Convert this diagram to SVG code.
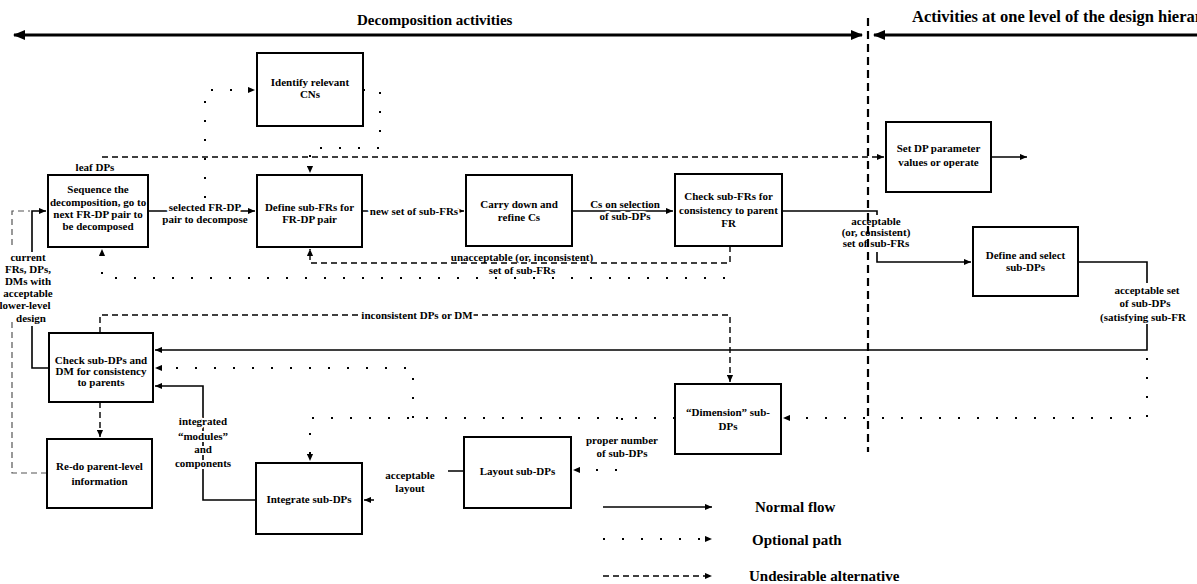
<svg xmlns="http://www.w3.org/2000/svg" width="1197" height="584" viewBox="0 0 1197 584">
<defs>
  <marker id="arrow" viewBox="0 0 8 8" refX="8" refY="4" markerWidth="7" markerHeight="7" markerUnits="userSpaceOnUse" orient="auto">
    <path d="M0,0.5 L8,4 L0,7.5 z" fill="#000"/>
  </marker>
  <marker id="bigArrow" viewBox="0 0 12 10" refX="11" refY="5" markerWidth="12" markerHeight="10" markerUnits="userSpaceOnUse" orient="auto-start-reverse">
    <path d="M0,0 L12,5 L0,10 z" fill="#000"/>
  </marker>
  <style>
    .box{fill:#fff;stroke:#000;stroke-width:2}
    .nt{font-family:"Liberation Serif","Times New Roman",serif;font-weight:bold;font-size:11px;text-anchor:middle;fill:#000}
    .lb{font-family:"Liberation Serif","Times New Roman",serif;font-weight:bold;font-size:11px;text-anchor:middle;fill:#000;stroke:#fff;stroke-width:4;stroke-linejoin:round;paint-order:stroke}
    .hd{font-family:"Liberation Serif","Times New Roman",serif;font-weight:bold;font-size:15px;fill:#000}
    .solid{fill:none;stroke:#000;stroke-width:1.6}
    .dash{fill:none;stroke:#000;stroke-width:1.4;stroke-dasharray:6 4}
    .faint{fill:none;stroke:#555;stroke-width:1.2;stroke-dasharray:6 4}
    .dot{fill:none;stroke:#000;stroke-width:2;stroke-dasharray:2 17}
    .arr{marker-end:url(#arrow)}
  </style>
</defs>
<rect width="1197" height="584" fill="#fff"/>

<!-- headers and the scope arrows -->
<g id="headers">
  <text class="hd" x="357" y="25">Decomposition activities</text>
  <text class="hd" x="912" y="22" style="font-size:16.5px">Activities at one level of the design hierarchy</text>
  <path d="M862,35 H14" fill="none" stroke="#000" stroke-width="3" marker-start="url(#bigArrow)" marker-end="url(#bigArrow)"/>
  <path d="M1197,35 H874" fill="none" stroke="#000" stroke-width="3" marker-end="url(#bigArrow)"/>
</g>

<!-- connectors -->
<g id="connectors">
  <!-- optional: fetch relevant CNs -->
  <path class="dot arr" d="M205,198 V90 H255"/>
  <path class="dot arr" d="M363,90 H380 V148 H310 V173"/>
  <!-- leaf DPs -->
  <path class="dash arr" d="M102,157 H884"/>
  <text class="nt" x="95" y="171">leaf DPs</text>
  <!-- main decomposition chain -->
  <path class="solid arr" d="M148,211 H255"/>
  <text class="lb" x="205" y="211">selected FR-DP</text>
  <text class="lb" x="205" y="223">pair to decompose</text>
  <path class="solid arr" d="M362,211 H464"/>
  <text class="lb" x="414" y="215">new set of sub-FRs</text>
  <path class="solid arr" d="M572,211 H673"/>
  <text class="lb" x="625" y="208">Cs on selection</text>
  <text class="lb" x="625" y="220">of sub-DPs</text>
  <path class="solid arr" d="M782,211 H877 V215 M877,252 V262 H971"/>
  <text class="nt" x="876" y="225">acceptable</text>
  <text class="nt" x="876" y="236">(or, consistent)</text>
  <text class="nt" x="876" y="247">set of sub-FRs</text>
  <!-- unacceptable set of sub-FRs -->
  <path class="dash arr" d="M730,246 V263 H310 V249"/>
  <text class="nt" x="522" y="261">unacceptable (or, inconsistent)</text>
  <text class="nt" x="522" y="274">set of sub-FRs</text>
  <path class="dot arr" d="M725,278 H102 V249"/>
  <!-- set DP parameter values -->
  <path class="solid arr" d="M991,157 H1027"/>
  <!-- acceptable set of sub-DPs back to checking -->
  <path class="solid arr" d="M1078,262 H1147 V283 M1147,324 V350 H155"/>
  <text class="nt" x="1147" y="294">acceptable set</text>
  <text class="nt" x="1145" y="307">of sub-DPs</text>
  <text class="nt" x="1143" y="321">(satisfying sub-FR</text>
  <path class="dot arr" d="M1147,358 V418 H783"/>
  <!-- inconsistent DPs or DM -->
  <path class="dash arr" d="M100,333 V315 H730 V382"/>
  <text class="lb" x="417" y="319">inconsistent DPs or DM</text>
  <!-- dimension / layout / integrate -->
  <path class="dot arr" d="M675,418 H310 V461"/>
  <path class="dot arr" d="M413,418 V368 H155"/>
  <path class="dot arr" d="M622,418 V470 H573"/>
  <text class="lb" x="622" y="444">proper number</text>
  <text class="lb" x="622" y="457">of sub-DPs</text>
  <path class="solid arr" d="M464,471 H448 M374,500 H364"/>
  <text class="nt" x="410" y="479">acceptable</text>
  <text class="nt" x="410" y="492">layout</text>
  <path class="solid arr" d="M256,500 H203 V386 H155"/>
  <text class="lb" x="203" y="425">integrated</text>
  <text class="lb" x="203" y="440">“modules”</text>
  <text class="lb" x="203" y="453">and</text>
  <text class="lb" x="203" y="467">components</text>
  <!-- back to parent level -->
  <path class="dash arr" d="M100,402 V437"/>
  <path class="solid arr" d="M49,368 H32 V326 M32,252 V211 H46"/>
  <path class="faint" d="M47,473 H12 V318 M12,245 V211 H30"/>
  <text class="nt" x="28" y="261">current</text>
  <text class="nt" x="28" y="273">FRs, DPs,</text>
  <text class="nt" x="28" y="285">DMs with</text>
  <text class="nt" x="28" y="297">acceptable</text>
  <text class="nt" x="25" y="309">lower-level</text>
  <text class="nt" x="31" y="322">design</text>
</g>

<!-- level boundary -->
<path d="M868,18 V452" fill="none" stroke="#000" stroke-width="2.2" stroke-dasharray="8 5"/>

<g id="identify-cns">
  <rect class="box" x="257" y="53" width="106" height="73"/>
  <text class="nt" x="310" y="86">Identify relevant</text>
  <text class="nt" x="310" y="98">CNs</text>
</g>
<g id="sequence">
  <rect class="box" x="48" y="175" width="100" height="72"/>
  <text class="nt" x="98" y="193">Sequence the</text>
  <text class="nt" x="98" y="206">decomposition, go to</text>
  <text class="nt" x="98" y="218">next FR-DP pair to</text>
  <text class="nt" x="98" y="230">be decomposed</text>
</g>
<g id="define-sub-frs">
  <rect class="box" x="257" y="175" width="105" height="72"/>
  <text class="nt" x="309.5" y="211">Define sub-FRs for</text>
  <text class="nt" x="309.5" y="223">FR-DP pair</text>
</g>
<g id="carry-down">
  <rect class="box" x="466" y="175" width="106" height="71"/>
  <text class="nt" x="519" y="208">Carry down and</text>
  <text class="nt" x="519" y="221">refine Cs</text>
</g>
<g id="check-sub-frs">
  <rect class="box" x="675" y="174" width="107" height="72"/>
  <text class="nt" x="728.5" y="200">Check sub-FRs for</text>
  <text class="nt" x="728.5" y="214">consistency to parent</text>
  <text class="nt" x="728.5" y="227">FR</text>
</g>
<g id="set-dp">
  <rect class="box" x="886" y="122" width="105" height="70"/>
  <text class="nt" x="938.5" y="152">Set DP parameter</text>
  <text class="nt" x="938.5" y="166">values or operate</text>
</g>
<g id="define-sub-dps">
  <rect class="box" x="973" y="227" width="105" height="69"/>
  <text class="nt" x="1025.5" y="259">Define and select</text>
  <text class="nt" x="1025.5" y="271">sub-DPs</text>
</g>
<g id="check-sub-dps">
  <rect class="box" x="49" y="333" width="104" height="69"/>
  <text class="nt" x="101" y="364">Check sub-DPs and</text>
  <text class="nt" x="101" y="375">DM for consistency</text>
  <text class="nt" x="101" y="386">to parents</text>
</g>
<g id="redo-parent">
  <rect class="box" x="47" y="439" width="105" height="69"/>
  <text class="nt" x="99.5" y="470">Re-do parent-level</text>
  <text class="nt" x="99.5" y="485">information</text>
</g>
<g id="integrate">
  <rect class="box" x="256" y="463" width="106" height="71"/>
  <text class="nt" x="309" y="503">Integrate sub-DPs</text>
</g>
<g id="layout">
  <rect class="box" x="464" y="437" width="107" height="71"/>
  <text class="nt" x="517.5" y="475">Layout sub-DPs</text>
</g>
<g id="dimension">
  <rect class="box" x="675" y="384" width="106" height="70"/>
  <text class="nt" x="728" y="416">“Dimension” sub-</text>
  <text class="nt" x="728" y="430">DPs</text>
</g>

<g id="legend">
  <path class="solid arr" d="M603,507 H712"/>
  <path class="dot arr" d="M603,539 H712"/>
  <path class="dash arr" d="M603,576 H712"/>
  <text class="hd" x="755" y="512">Normal flow</text>
  <text class="hd" x="752" y="545">Optional path</text>
  <text class="hd" x="749" y="581">Undesirable alternative</text>
</g>
</svg>
